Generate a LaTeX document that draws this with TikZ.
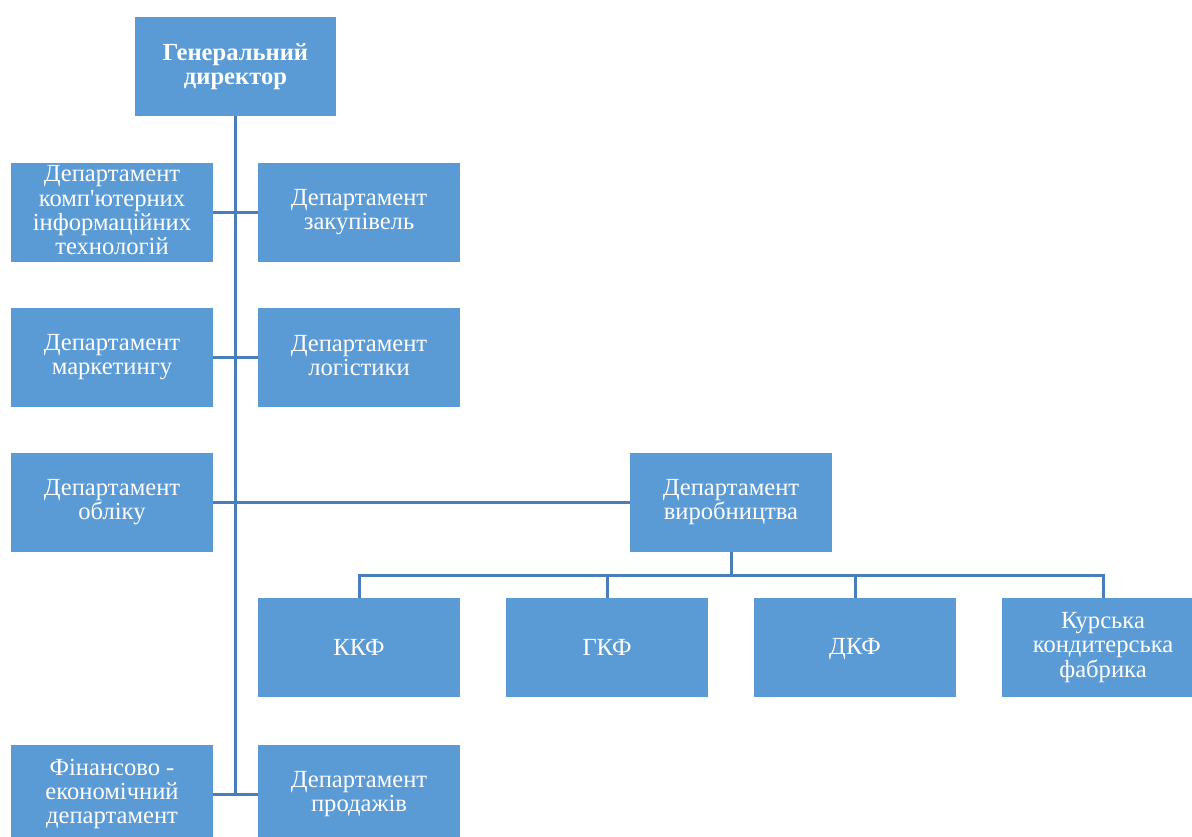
\documentclass[tikz,border=0pt]{standalone}
\usepackage{fontspec}
\setmainfont{Liberation Serif}
\definecolor{boxblue}{HTML}{5B9BD5}
\definecolor{lineblue}{HTML}{4A7EBB}
\newcommand\boxstrut{\rule[-2.3pt]{0pt}{13.3pt}}
\newcommand\boxfont{\fontsize{14}{13.7}\selectfont\lineskiplimit=-20pt\relax}
\begin{document}
\begin{tikzpicture}[x=0.02cm,y=-0.02cm,
  box/.style={fill=boxblue, minimum width=4.04cm, minimum height=1.98cm, inner sep=0pt,
    text=white, align=center, font=\boxfont,
    execute at begin node={\boxstrut}, execute at end node={\boxstrut}},
  conn/.style={draw=lineblue, line width=1.7pt}]
\useasboundingbox (0,0) rectangle (1192,836);
\clip (0,0) rectangle (1192,836);
\node[box, font=\bfseries\boxfont] (gd) at (235.5,66.5) {Генеральний\\директор};
\node[box] (it)   at (112,212)   {Департамент\\комп\textquotesingle ютерних\\інформаційних\\технологій};
\node[box] (zak)  at (359,212)   {Департамент\\закупівель};
\node[box] (mkt)  at (112,357.5) {Департамент\\маркетингу};
\node[box] (log)  at (359,357.5) {Департамент\\логістики};
\node[box] (obl)  at (112,502.5) {Департамент\\обліку};
\node[box] (vyr)  at (731,502.5) {Департамент\\виробництва};
\node[box] (kkf)  at (359,647.5) {ККФ};
\node[box] (gkf)  at (607,647.5) {ГКФ};
\node[box] (dkf)  at (855,647.5) {ДКФ};
\node[box] (kur)  at (1103,647.5) {Курська\\кондитерська\\фабрика};
\node[box] (fin)  at (112,794)   {Фінансово -\\економічний\\департамент};
\node[box] (prod) at (359,794)   {Департамент\\продажів};
\draw[conn] (gd.south) -- (gd.south |- fin.east);
\draw[conn] (it.east) -- (zak.west);
\draw[conn] (mkt.east) -- (log.west);
\draw[conn] (obl.east) -- (vyr.west);
\draw[conn] (fin.east) -- (prod.west);
\coordinate (bus) at (731,575);
\draw[conn] (vyr.south) -- (bus);
\draw[conn] (bus) -| (kkf.north);
\draw[conn] (bus) -| (gkf.north);
\draw[conn] (bus) -| (dkf.north);
\draw[conn] (bus) -| (kur.north);
\end{tikzpicture}
\end{document}
